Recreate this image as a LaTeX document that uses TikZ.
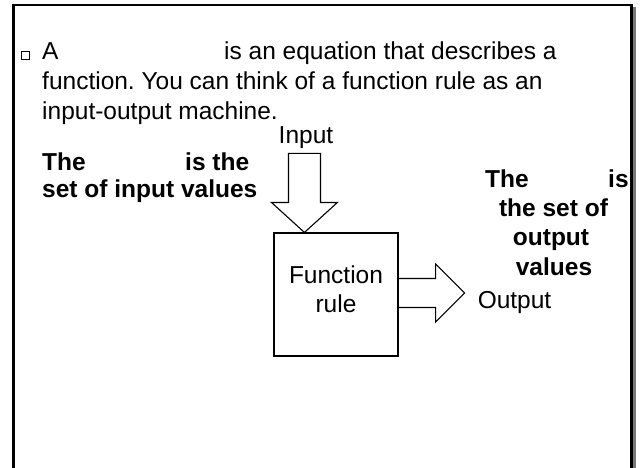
\documentclass[tikz,border=0pt]{standalone}
\usepackage{fontspec}
\setmainfont{Liberation Sans}
\usetikzlibrary{calc,positioning}
\definecolor{shadowgray}{RGB}{120,120,120}
\frenchspacing

\begin{document}
\begin{tikzpicture}[x=1pt, y=-1pt,
  every node/.style={inner sep=0pt, anchor=base west, font=\fontsize{24.5}{29}\selectfont},
  boldtxt/.style={font=\fontsize{24.5}{29}\selectfont\bfseries},
  blockarrow/.style={draw, line width=1.1pt, line join=miter}]
\useasboundingbox (0,0) rectangle (640,468);
% slide frame, open at the bottom
\fill[shadowgray] (632.5,7) rectangle (636,468);
\draw[line width=2.8pt] (13.5,468) -- (13.5,5) -- (631.5,5) -- (631.5,468);
% bullet text
\node[draw, line width=0.6pt, minimum size=8pt, anchor=center] (bullet) at (25,55) {};
\node (l1a) at (42,60) {A};
\node (l1b) at (224,60) {is an equation that describes a};
\node (l2) at (42,90) {function. You can think of a function rule as an};
\node (l3) at (42,120) {input-output machine.};
% domain note
\node[boldtxt] (dom1) at (42,171) {The};
\node[boldtxt] (dom2) at (185,171) {is the};
\node[boldtxt] (dom3) at (42,197) {set of input values};
% range note
\node[boldtxt] (rng1) at (485,187) {The};
\node[boldtxt] (rng2) at (608,187) {is};
\node[boldtxt, anchor=base] (rng3) at (553.5,216) {the set of};
\node[boldtxt, anchor=base] (rng4) at (551,245) {output};
\node[boldtxt, anchor=base] (rng5) at (554,275) {values};
% machine
\node[draw, line width=1.1pt, minimum width=124pt, minimum height=123pt, align=center, text depth=11pt, anchor=center] (rule) at (336,294.5) {Function\\rule};
\coordinate (intip) at ($(rule.north west)+(31,0)$);
\coordinate (outtip) at ($(rule.east)+(66,-1.5)$);
\draw[blockarrow] (intip) -- ++(-33,-30) -- ++(17,0) -- ++(0,-49) -- ++(32,0) -- ++(0,49) -- ++(17,0) -- cycle;
\draw[blockarrow] (rule.east |- 0,278.5) -- ++(37,0) -- ++(0,-14.5) -- (outtip) -- ++(-29,29) -- ++(0,-14.5) -- ++(-37,0);
\node[anchor=base] (inlbl) at ($(intip)+(1.5,-89)$) {Input};
\node (outlbl) at ($(outtip)+(13,15)$) {Output};
\end{tikzpicture}
\end{document}
